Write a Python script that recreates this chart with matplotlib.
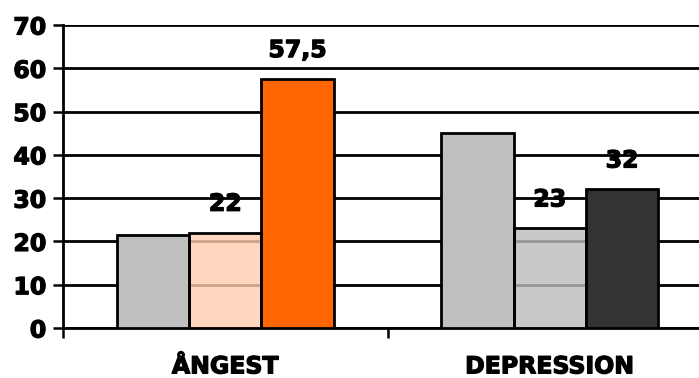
import matplotlib
matplotlib.use('Agg')
from matplotlib import pyplot as plt
from matplotlib import patheffects as pe
import numpy as np

categories = ['ÅNGEST', 'DEPRESSION']
# three bars per category
angest = [21.5, 22, 57.5]
depression = [45, 23, 32]
angest_labels = [None, '22', '57,5']
depression_labels = [None, '23', '32']

angest_colors = [('#C0C0C0', 1.0), ('#FFCEAE', 0.8), ('#FF6600', 1.0)]
depression_colors = [('#C0C0C0', 1.0), ('#BCBCBC', 0.8), ('#333333', 1.0)]

heavy = [pe.withStroke(linewidth=0.9, foreground='black')]

fig = plt.figure(figsize=(6.99, 3.78), dpi=100)
ax = fig.add_axes([63/699, 50/378, (712-63)/699, (328-25)/378])

width = 0.223
offsets = np.array([-1, 0, 1]) * width
centers = np.arange(len(categories)) + 0.5

for ci, (vals, cols, labs) in enumerate([(angest, angest_colors, angest_labels),
                                         (depression, depression_colors, depression_labels)]):
	for k in range(3):
		c, a = cols[k]
		x = centers[ci] + offsets[k]
		ax.bar(x, vals[k], width, color=c, alpha=a, edgecolor='none', zorder=3)
		ax.bar(x, vals[k], width, fill=False, edgecolor='black', linewidth=2.0, zorder=4)
		if labs[k]:
			ax.annotate(labs[k], (x, vals[k]), xytext=(0, 29), textcoords='offset pixels',
				ha='center', va='center', fontsize=17, fontweight='bold', path_effects=heavy)

ax.set_xlim(0, 2)
ax.set_ylim(0, 70)
ax.set_yticks(np.arange(0, 71, 10))
ax.yaxis.grid(True, color='black', linewidth=2.0, zorder=1)
ax.set_axisbelow(True)

ax.set_xticks([0, 1, 2])
ax.set_xticklabels([])
ax.set_xticks(centers, categories, minor=True)
ax.tick_params(axis='x', which='major', length=7, width=1.8, direction='out')
ax.tick_params(axis='x', which='minor', length=0, pad=19, labelsize=17)
ax.tick_params(axis='y', length=7, width=1.8, direction='out', labelsize=17, pad=5)
for lab in ax.get_xticklabels(minor=True) + ax.get_yticklabels():
	lab.set_fontweight('bold')
	lab.set_path_effects(heavy)

for s in ['top', 'right']:
	ax.spines[s].set_visible(False)
ax.spines['left'].set_linewidth(2.0)
ax.spines['bottom'].set_linewidth(2.0)

fig.savefig('out.png', dpi=100)
